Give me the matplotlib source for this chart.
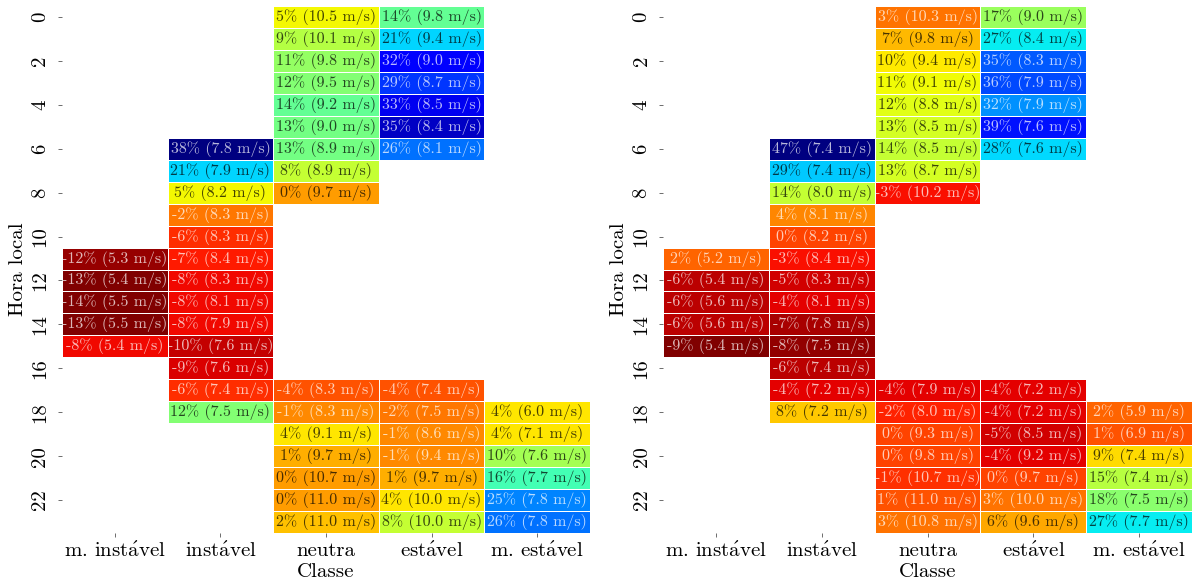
import numpy as np
import matplotlib
matplotlib.use("Agg")
import matplotlib.pyplot as plt
from matplotlib import colors as mcolors

plt.rcParams['font.family'] = ['cmr10', 'DejaVu Serif']
plt.rcParams['mathtext.fontset'] = 'cm'
plt.rcParams['axes.formatter.use_mathtext'] = True

classes = ["m. inst$\\mathrm{\\acute{a}}$vel", "inst$\\mathrm{\\acute{a}}$vel", "neutra",
           "est$\\mathrm{\\acute{a}}$vel", "m. est$\\mathrm{\\acute{a}}$vel"]
hours = list(range(24))
N = None

# ---- left panel: percentage / wind speed per class (rows = hour 0..23)
L_minst_pct = [N]*11 + [-12, -13, -14, -13, -8] + [N]*8
L_minst_spd = [N]*11 + [5.3, 5.4, 5.5, 5.5, 5.4] + [N]*8
L_inst_pct = [N]*6 + [38, 21, 5, -2, -6, -7, -8, -8, -8, -10, -9, -6, 12] + [N]*5
L_inst_spd = [N]*6 + [7.8, 7.9, 8.2, 8.3, 8.3, 8.4, 8.3, 8.1, 7.9, 7.6, 7.6, 7.4, 7.5] + [N]*5
L_neu_pct = [5, 9, 11, 12, 14, 13, 13, 8, 0] + [N]*8 + [-4, -1, 4, 1, 0, 0, 2]
L_neu_spd = [10.5, 10.1, 9.8, 9.5, 9.2, 9.0, 8.9, 8.9, 9.7] + [N]*8 + [8.3, 8.3, 9.1, 9.7, 10.7, 11.0, 11.0]
L_est_pct = [14, 21, 32, 29, 33, 35, 26] + [N]*10 + [-4, -2, -1, -1, 1, 4, 8]
L_est_spd = [9.8, 9.4, 9.0, 8.7, 8.5, 8.4, 8.1] + [N]*10 + [7.4, 7.5, 8.6, 9.4, 9.7, 10.0, 10.0]
L_mest_pct = [N]*18 + [4, 4, 10, 16, 25, 26]
L_mest_spd = [N]*18 + [6.0, 7.1, 7.6, 7.7, 7.8, 7.8]
L_limits = [-13, 38]

# ---- right panel
R_minst_pct = [N]*11 + [2, -6, -6, -6, -9] + [N]*8
R_minst_spd = [N]*11 + [5.2, 5.4, 5.6, 5.6, 5.4] + [N]*8
R_inst_pct = [N]*6 + [47, 29, 14, 4, 0, -3, -5, -4, -7, -8, -6, -4, 8] + [N]*5
R_inst_spd = [N]*6 + [7.4, 7.4, 8.0, 8.1, 8.2, 8.4, 8.3, 8.1, 7.8, 7.5, 7.4, 7.2, 7.2] + [N]*5
R_neu_pct = [3, 7, 10, 11, 12, 13, 14, 13, -3] + [N]*8 + [-4, -2, 0, 0, -1, 1, 3]
R_neu_spd = [10.3, 9.8, 9.4, 9.1, 8.8, 8.5, 8.5, 8.7, 10.2] + [N]*8 + [7.9, 8.0, 9.3, 9.8, 10.7, 11.0, 10.8]
R_est_pct = [17, 27, 35, 36, 32, 39, 28] + [N]*10 + [-4, -4, -5, -4, 0, 3, 6]
R_est_spd = [9.0, 8.4, 8.3, 7.9, 7.9, 7.6, 7.6] + [N]*10 + [7.2, 7.2, 8.5, 9.2, 9.7, 10.0, 9.6]
R_mest_pct = [N]*18 + [2, 1, 9, 15, 18, 27]
R_mest_spd = [N]*18 + [5.9, 6.9, 7.4, 7.4, 7.5, 7.7]
R_limits = [-9, 47]


def to_arr(cols):
    return np.array([[np.nan if v is None else v for v in c] for c in cols], dtype=float).T


panels = [
    (to_arr([L_minst_pct, L_inst_pct, L_neu_pct, L_est_pct, L_mest_pct]),
     to_arr([L_minst_spd, L_inst_spd, L_neu_spd, L_est_spd, L_mest_spd]), L_limits),
    (to_arr([R_minst_pct, R_inst_pct, R_neu_pct, R_est_pct, R_mest_pct]),
     to_arr([R_minst_spd, R_inst_spd, R_neu_spd, R_est_spd, R_mest_spd]), R_limits),
]

W, H = 1192, 583
fig = plt.figure(figsize=(W/100, H/100), dpi=100)
rects = [[62/W, 1-533/H, 528/W, 527/H], [663/W, 1-533/H, 529/W, 527/H]]
cmap = plt.get_cmap('jet_r')

for (pct, spd, lim), rect in zip(panels, rects):
    ax = fig.add_axes(rect)
    norm = mcolors.Normalize(lim[0], lim[1], clip=True)
    data = np.ma.masked_invalid(pct)
    ax.pcolormesh(np.arange(len(classes)+1), np.arange(len(hours)+1), data,
                  cmap=cmap, norm=norm, edgecolors='white', linewidth=0.5)
    for i in range(pct.shape[0]):
        for j in range(pct.shape[1]):
            if np.isnan(pct[i, j]):
                continue
            rgba = cmap(norm(pct[i, j]))
            r, g, b = [c/12.92 if c <= 0.03928 else ((c+0.055)/1.055)**2.4 for c in rgba[:3]]
            lum = 0.2126*r + 0.7152*g + 0.0722*b
            tc = 'black' if lum > 0.408 else 'white'
            ax.text(j+0.5, i+0.5, f"{pct[i, j]:.0f}% ({spd[i, j]:.1f} m/s)",
                    ha='center', va='center', color=tc, alpha=0.72, fontsize=11.5)
    ax.set_xlim(0, len(classes))
    ax.set_ylim(len(hours), 0)
    for s in ax.spines.values():
        s.set_visible(False)
    ax.set_xticks(np.arange(len(classes)) + 0.5)
    ax.set_xticklabels(classes, fontsize=15)
    ax.set_yticks(np.arange(0, 24, 2) + 0.5)
    ax.set_yticklabels([str(h) for h in hours[::2]], rotation=90, va='center', fontsize=15)
    ax.tick_params(length=3, width=0.6, color='#555555')
    ax.tick_params(axis='y', pad=6)
    ax.set_xlabel("Classe", fontsize=15, labelpad=1)
    ax.set_ylabel("Hora local", fontsize=15, labelpad=3)

fig.savefig("out.png", dpi=100)
